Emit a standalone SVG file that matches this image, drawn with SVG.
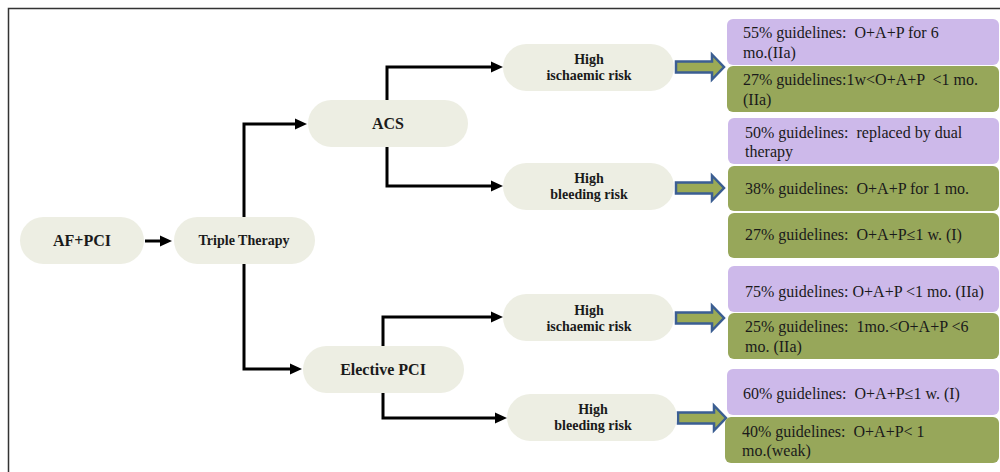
<svg xmlns="http://www.w3.org/2000/svg" width="1000" height="472" viewBox="0 0 1000 472">
<defs>
<style>
.node{fill:#EDEEE3;}
.nt{font-family:"Liberation Serif",serif;font-weight:bold;fill:#1a1a1a;text-anchor:middle;}
.conn{fill:none;stroke:#000;stroke-width:3;}
.purple{fill:#CDB9EA;}
.green{fill:#97A75A;}
.bt{font-family:"Liberation Serif",serif;font-size:16px;fill:#1a1a1a;white-space:pre;}
.barrow{fill:#9BAA55;stroke:#3B5E92;stroke-width:2.5;stroke-linejoin:miter;}
</style>
<marker id="ah" markerUnits="userSpaceOnUse" markerWidth="12" markerHeight="12" viewBox="0 0 12 12" refX="3" refY="6" orient="auto">
<path d="M0,0.5 L12,6 L0,11.5 z" fill="#000"/>
</marker>
</defs>
<rect width="1000" height="472" fill="#fff"/>
<path d="M1000,8.5 H8.5 V472" fill="none" stroke="#333" stroke-width="1.5"/>

<g id="connectors">
<path class="conn" d="M145,241 H163" marker-end="url(#ah)"/>
<path class="conn" d="M244,217 V124 H298" marker-end="url(#ah)"/>
<path class="conn" d="M244,264 V369 H293" marker-end="url(#ah)"/>
<path class="conn" d="M387,100 V67 H494" marker-end="url(#ah)"/>
<path class="conn" d="M387,147 V186 H494" marker-end="url(#ah)"/>
<path class="conn" d="M383,346 V317 H494" marker-end="url(#ah)"/>
<path class="conn" d="M383,393 V418 H498" marker-end="url(#ah)"/>
<path class="barrow" d="M676,61.5 H712 V54.5 L724,67 L712,79.5 V72.5 H676 Z"/>
<path class="barrow" d="M676,182.5 H712 V175.5 L724,188 L712,200.5 V193.5 H676 Z"/>
<path class="barrow" d="M676,312.5 H712 V305.5 L724,318 L712,330.5 V323.5 H676 Z"/>
<path class="barrow" d="M678,412.5 H714 V405.5 L726,418 L714,430.5 V423.5 H678 Z"/>
</g>

<g id="n-afpci">
<rect class="node" x="20" y="217" width="124" height="47" rx="23.5"/>
<text class="nt" x="82" y="246" font-size="16">AF+PCI</text>
</g>
<g id="n-triple">
<rect class="node" x="174" y="217" width="141" height="47" rx="23.5"/>
<text class="nt" x="244" y="245" font-size="14">Triple Therapy</text>
</g>
<g id="n-acs">
<rect class="node" x="308" y="100" width="160" height="47" rx="23.5"/>
<text class="nt" x="388" y="129" font-size="16">ACS</text>
</g>
<g id="n-elective">
<rect class="node" x="303" y="346" width="161" height="47" rx="23.5"/>
<text class="nt" x="383" y="375" font-size="16">Elective PCI</text>
</g>
<g id="n-acs-isch">
<rect class="node" x="503" y="44" width="171" height="47" rx="23.5"/>
<text class="nt" x="589" y="64" font-size="14">High</text>
<text class="nt" x="589" y="80" font-size="14">ischaemic risk</text>
</g>
<g id="n-acs-bleed">
<rect class="node" x="503" y="163" width="171" height="47" rx="23.5"/>
<text class="nt" x="589" y="183" font-size="14">High</text>
<text class="nt" x="589" y="199" font-size="14">bleeding risk</text>
</g>
<g id="n-el-isch">
<rect class="node" x="503" y="294" width="171" height="47" rx="23.5"/>
<text class="nt" x="589" y="315" font-size="14">High</text>
<text class="nt" x="589" y="331" font-size="14">ischaemic risk</text>
</g>
<g id="n-el-bleed">
<rect class="node" x="507" y="394" width="170" height="47" rx="23.5"/>
<text class="nt" x="593" y="414" font-size="14">High</text>
<text class="nt" x="593" y="430" font-size="14">bleeding risk</text>
</g>

<g id="b1">
<rect class="purple" x="727" y="19" width="272" height="46" rx="6"/>
<text class="bt" x="743" y="38">55% guidelines:  O+A+P for 6</text>
<text class="bt" x="743" y="58">mo.(IIa)</text>
</g>
<g id="b2">
<rect class="green" x="727" y="66" width="272" height="46" rx="6"/>
<text class="bt" x="743" y="85">27% guidelines:1w&lt;O+A+P  &lt;1 mo.</text>
<text class="bt" x="743" y="105">(IIa)</text>
</g>
<g id="b3">
<rect class="purple" x="728" y="118" width="271" height="46" rx="6"/>
<text class="bt" x="745" y="138">50% guidelines:  replaced by dual</text>
<text class="bt" x="745" y="157">therapy</text>
</g>
<g id="b4">
<rect class="green" x="728" y="166" width="271" height="45" rx="6"/>
<text class="bt" x="745" y="194">38% guidelines:  O+A+P for 1 mo.</text>
</g>
<g id="b5">
<rect class="green" x="728" y="213" width="271" height="45" rx="6"/>
<text class="bt" x="745" y="240">27% guidelines:  O+A+P≤1 w. (I)</text>
</g>
<g id="b6">
<rect class="purple" x="728" y="266" width="271" height="46" rx="6"/>
<text class="bt" x="745" y="297">75% guidelines: O+A+P &lt;1 mo. (IIa)</text>
</g>
<g id="b7">
<rect class="green" x="728" y="313" width="271" height="46" rx="6"/>
<text class="bt" x="745" y="332">25% guidelines:  1mo.&lt;O+A+P &lt;6</text>
<text class="bt" x="745" y="352">mo. (IIa)</text>
</g>
<g id="b8">
<rect class="purple" x="727" y="369" width="272" height="46" rx="6"/>
<text class="bt" x="743" y="399">60% guidelines:  O+A+P≤1 w. (I)</text>
</g>
<g id="b9">
<rect class="green" x="725" y="417" width="274" height="46" rx="6"/>
<text class="bt" x="742" y="437">40% guidelines:  O+A+P&lt; 1</text>
<text class="bt" x="742" y="456">mo.(weak)</text>
</g>
</svg>
